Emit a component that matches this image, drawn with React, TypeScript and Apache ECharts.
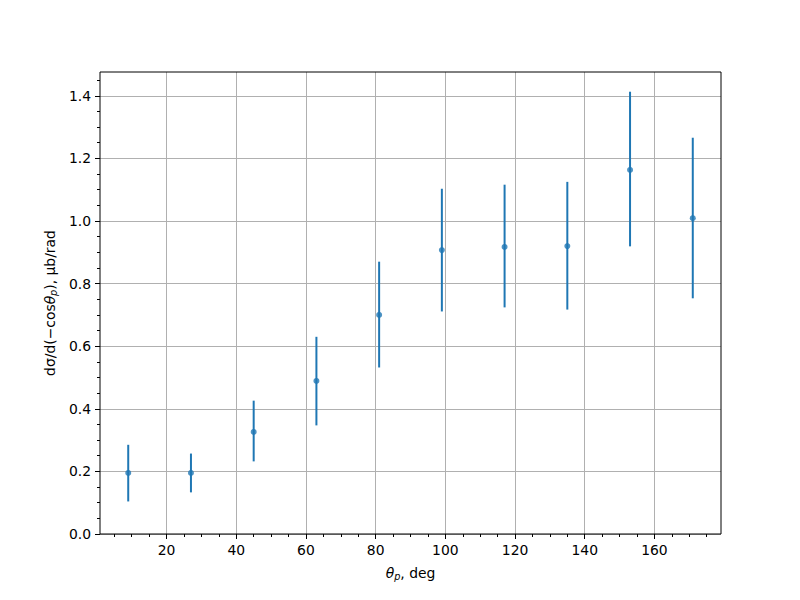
import React, { useEffect, useRef } from "react";
import * as echarts from "echarts";

const angles = [9, 27, 45, 63, 81, 99, 117, 135, 153, 171];
const values = [0.195, 0.195, 0.326, 0.489, 0.7, 0.907, 0.917, 0.92, 1.163, 1.009];
const errLow = [0.104, 0.133, 0.232, 0.347, 0.532, 0.711, 0.724, 0.717, 0.919, 0.753];
const errHigh = [0.285, 0.257, 0.426, 0.63, 0.87, 1.103, 1.116, 1.125, 1.413, 1.266];

const xMajorTicks = [20, 40, 60, 80, 100, 120, 140, 160];
const xMinorTicks = [5, 10, 15, 25, 30, 35, 45, 50, 55, 65, 70, 75, 85, 90, 95, 105, 110, 115, 125, 130, 135, 145, 150, 155, 165, 170, 175];
const yMajorTicks = [0, 0.2, 0.4, 0.6, 0.8, 1.0, 1.2, 1.4];
const yMinorTicks = [0.05, 0.1, 0.15, 0.25, 0.3, 0.35, 0.45, 0.5, 0.55, 0.65, 0.7, 0.75, 0.85, 0.9, 0.95, 1.05, 1.1, 1.15, 1.25, 1.3, 1.35, 1.45];

const X_MIN = 0.9;
const X_MAX = 179.1;
const Y_MIN = 0;
const Y_MAX = 1.476;

const BLUE = "#1f77b4";
const FONT = "DejaVu Sans";

export default function App() {
  const ref = useRef<HTMLDivElement>(null);
  useEffect(() => {
    document.body.style.margin = "0";
    const chart = echarts.init(ref.current!, null, { renderer: "svg" });
    const tickLabel = { color: "#000", fontFamily: FONT, fontSize: 13.9 };
    const rich = {
      it: { fontFamily: FONT, fontSize: 13.9, fontStyle: "italic", color: "#000" },
      sub: { fontFamily: FONT, fontSize: 9.7, fontStyle: "italic", color: "#000", padding: [6, 0, 0, 0] },
      n: { fontFamily: FONT, fontSize: 13.9, color: "#000" },
    };
    chart.setOption({
      animation: false,
      backgroundColor: "#fff",
      grid: {
        left: 100,
        top: 72,
        right: 79,
        bottom: 66,
        show: true,
        borderColor: "#000",
        borderWidth: 1,
        backgroundColor: "transparent",
        z: 5,
      },
      xAxis: [
        {
          type: "value",
          min: X_MIN,
          max: X_MAX,
          position: "bottom",
          axisLine: { show: false },
          axisTick: { show: true, customValues: xMajorTicks, length: 5, lineStyle: { color: "#000" } },
          axisLabel: { ...tickLabel, customValues: xMajorTicks, margin: 9 },
          splitLine: { show: true, lineStyle: { color: "#b0b0b0", width: 1 } },
          name: "{it|θ}{sub|p}{n|, deg}",
          nameLocation: "middle",
          nameGap: 31,
          nameTextStyle: { fontFamily: FONT, fontSize: 13.9, color: "#000", rich },
        },
        {
          type: "value",
          min: X_MIN,
          max: X_MAX,
          position: "bottom",
          axisLine: { show: false },
          axisTick: { show: true, customValues: xMinorTicks, length: 3, lineStyle: { color: "#000" } },
          axisLabel: { show: false },
          splitLine: { show: false },
        },
      ],
      yAxis: [
        {
          type: "value",
          min: Y_MIN,
          max: Y_MAX,
          position: "left",
          axisLine: { show: false },
          axisTick: { show: true, customValues: yMajorTicks, length: 5, lineStyle: { color: "#000" } },
          axisLabel: {
            ...tickLabel,
            customValues: yMajorTicks,
            margin: 9,
            formatter: (v: number) => v.toFixed(1),
          },
          splitLine: { show: true, lineStyle: { color: "#b0b0b0", width: 1 } },
          name: "{n|dσ/d(−cos}{it|θ}{sub|p}{n|), μb/rad}",
          nameLocation: "middle",
          nameGap: 42,
          nameRotate: 90,
          nameTextStyle: { fontFamily: FONT, fontSize: 13.9, color: "#000", rich },
        },
        {
          type: "value",
          min: Y_MIN,
          max: Y_MAX,
          position: "left",
          axisLine: { show: false },
          axisTick: { show: true, customValues: yMinorTicks, length: 3, lineStyle: { color: "#000" } },
          axisLabel: { show: false },
          splitLine: { show: false },
        },
      ],
      series: [
        {
          type: "custom",
          xAxisIndex: 0,
          yAxisIndex: 0,
          data: angles.map((a, i) => [a, errLow[i], errHigh[i]]),
          encode: { x: 0, y: [1, 2] },
          z: 10,
          renderItem: (params: any, api: any) => {
            const x = api.value(0);
            const lo = api.coord([x, api.value(1)]);
            const hi = api.coord([x, api.value(2)]);
            return {
              type: "line",
              shape: { x1: lo[0], y1: lo[1], x2: hi[0], y2: hi[1] },
              style: { stroke: BLUE, lineWidth: 2 },
            };
          },
        },
        {
          type: "scatter",
          xAxisIndex: 0,
          yAxisIndex: 0,
          data: angles.map((a, i) => [a, values[i]]),
          symbol: "circle",
          symbolSize: 6,
          itemStyle: { color: BLUE },
          z: 11,
        },
      ],
    });
    return () => chart.dispose();
  }, []);
  return (
    <div
      ref={ref}
      style={{ position: "absolute", left: 0, top: 0, width: 800, height: 600 }}
    />
  );
}
